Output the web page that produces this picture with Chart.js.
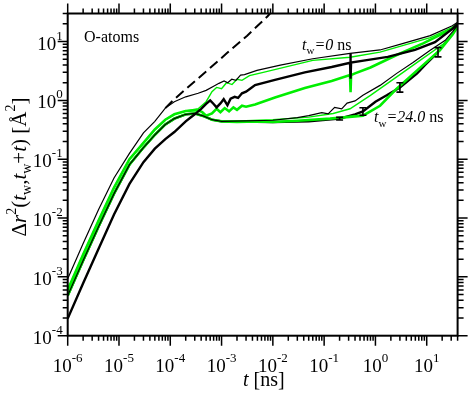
<!DOCTYPE html>
<html><head><meta charset="utf-8">
<script src="https://cdn.jsdelivr.net/npm/chart.js@4.4.0/dist/chart.umd.min.js"></script>
<style>html,body{margin:0;padding:0;background:#fff}canvas{display:block}</style>
</head><body>
<canvas id="c" width="471" height="393"></canvas>
<script>
// ---- axis ticks / labels ----
const xMajorTicks = [1e-6, 1e-5, 1e-4, 1e-3, 1e-2, 1e-1, 1, 10];
const xTickExp = ['-6', '-5', '-4', '-3', '-2', '-1', '0', '1'];
const yMajorTicks = [1e-4, 1e-3, 1e-2, 1e-1, 1, 10];
const yTickExp = ['-4', '-3', '-2', '-1', '0', '1'];

// ---- fit (dashed) ----
const tFit = [8e-5, 1.2e-4, 2e-4, 5e-4, 1.26e-3, 3.16e-3, 7.9e-3, 1e-2];
const msdFit = [0.74, 1.05, 1.55, 3.1, 6.3, 12.6, 27, 34];

// ---- tw = 0 curves ----
const tTopThinBlack = [1e-6, 2e-6, 4e-6, 8e-6, 1.6e-5, 3e-5, 5e-5, 8e-5, 1.2e-4, 2e-4, 3.5e-4, 5e-4, 7e-4, 8.9e-4, 1.12e-3, 1.32e-3, 1.58e-3, 1.9e-3, 2.35e-3, 2.8e-3, 4.9e-3, 1.4e-2, 6e-2, 0.32, 1.23, 3.5, 11.7, 31.6, 40];
const msdTopThinBlack = [9.3e-4, 3.7e-3, 1.4e-2, 4.8e-2, 0.126, 0.28, 0.44, 0.74, 0.95, 1.15, 1.32, 1.48, 1.74, 1.95, 2.14, 2.0, 2.29, 2.19, 2.69, 2.75, 3.24, 3.98, 5.1, 6.3, 7.2, 9.3, 12.6, 18.6, 21.4];

const tShortUp = [1e-6, 2e-6, 4e-6, 8e-6, 1.6e-5, 3e-5, 5e-5, 8e-5, 1.2e-4, 2e-4];
const msdShortUp = [6.0e-4, 2.4e-3, 9.1e-3, 3.3e-2, 0.10, 0.19, 0.32, 0.47, 0.58, 0.66];

const tTopThinGreen = [3.5e-4, 5e-4, 6.5e-4, 8e-4, 1e-3, 1.25e-3, 1.6e-3, 2e-3, 2.5e-3, 3.5e-3, 6.5e-3, 6e-2, 0.32, 1.23, 11.7, 31.6, 40];
const msdTopThinGreen = [0.72, 0.95, 1.41, 1.66, 1.58, 2.0, 1.86, 2.29, 2.19, 2.63, 3.0, 4.8, 5.4, 6.6, 11.7, 17.4, 20.4];

const tThickBlack = [1e-6, 2e-6, 4e-6, 8e-6, 1.6e-5, 3e-5, 5e-5, 8e-5, 1.2e-4, 2e-4, 3e-4, 4e-4, 5e-4, 6e-4, 7e-4, 8e-4, 9.5e-4, 1.1e-3, 1.3e-3, 1.5e-3, 1.8e-3, 2.1e-3, 2.5e-3, 3e-3, 3.6e-3, 4.5e-3, 1.1e-2, 4.2e-2, 0.14, 0.32, 0.325, 0.33, 0.335, 0.63, 1.74, 5.9, 14.5, 32, 40];
const msdThickBlack = [1.95e-4, 7.8e-4, 3.0e-3, 1.15e-2, 3.8e-2, 8.9e-2, 0.151, 0.22, 0.29, 0.44, 0.58, 0.72, 0.87, 1.0, 0.87, 0.76, 0.89, 1.05, 0.83, 1.07, 1.15, 1.10, 1.32, 1.41, 1.58, 1.82, 2.24, 3.0, 3.7, 4.37, 6.3, 2.34, 4.4, 4.8, 5.5, 7.2, 9.8, 16.6, 20];

const tMidGreen = [3.5e-4, 4.2e-4, 5e-4, 6.5e-4, 8e-4, 9.5e-4, 1.15e-3, 1.4e-3, 1.7e-3, 2e-3, 2.5e-3, 3e-3, 4.5e-3, 1.1e-2, 4.2e-2, 0.14, 0.32, 0.325, 0.33, 0.335, 0.4, 0.8, 2.6, 8.5, 32, 40];
const msdMidGreen = [0.68, 0.63, 0.55, 0.60, 0.72, 0.63, 0.74, 0.65, 0.76, 0.69, 0.81, 0.78, 0.85, 1.12, 1.62, 2.14, 2.69, 3.55, 1.38, 2.69, 2.88, 3.63, 5.9, 9.3, 16.6, 19];

// ---- tw = 24 ns curves ----
const tShortLow = [1e-6, 2e-6, 4e-6, 8e-6, 1.6e-5, 3e-5, 5e-5, 8e-5, 1.2e-4, 2e-4, 3e-4, 4.5e-4, 6.5e-4, 1e-3];
const msdShortLow = [4.8e-4, 1.9e-3, 7.2e-3, 2.6e-2, 8.1e-2, 0.158, 0.26, 0.39, 0.49, 0.58, 0.60, 0.54, 0.47, 0.44];

const tLowGreen = [2e-3, 5e-3, 1e-2, 3e-2, 0.13, 0.57, 1.23, 2.6, 6.5, 18, 32, 40];
const msdLowGreen = [0.43, 0.44, 0.43, 0.45, 0.49, 0.55, 0.81, 1.58, 3.24, 7.1, 13.2, 17.8];

const tLowThinGreen = [3e-3, 1e-2, 5e-2, 0.15, 0.32, 0.8, 2.6, 7.4, 21, 32, 40];
const msdLowThinGreen = [0.45, 0.47, 0.52, 0.60, 0.72, 1.22, 2.51, 4.8, 9.1, 13.2, 17.8];

const tLowThinBlack = [3e-3, 1e-2, 3e-2, 5e-2, 9e-2, 0.12, 0.16, 0.22, 0.28, 0.4, 0.57, 1.23, 2.6, 5.4, 11.7, 23, 32, 40];
const msdLowThinBlack = [0.45, 0.46, 0.51, 0.55, 0.62, 0.59, 0.76, 0.72, 0.90, 0.98, 1.22, 1.8, 2.88, 4.4, 7.1, 10.5, 14.8, 19];

const tLowThickBlack = [1e-2, 5e-2, 0.2, 0.4, 0.57, 1.0, 1.66, 3.0, 6.5, 9.3, 16.6];
const msdLowThickBlack = [0.43, 0.44, 0.49, 0.58, 0.65, 0.95, 1.22, 1.66, 2.88, 4.0, 6.6];

// ---- error bars on tw = 24 ns ----
const errT = [0.2, 0.57, 3.0, 16.6];
const errLow = [0.465, 0.56, 1.38, 5.5];
const errHigh = [0.515, 0.75, 2.0, 7.9];

function pts(ts, ys) { return ts.map((t, i) => ({x: t, y: ys[i]})); }

const GREEN = '#00ee00';
const SERIF = '"Liberation Serif", "Times New Roman", serif';

function line(data, color, width, dash) {
  return {data, borderColor: color, borderWidth: width, borderDash: dash || [], pointRadius: 0, fill: false, tension: 0};
}

// dataset index 0 is drawn on top
const datasets = [
  line(pts(tTopThinBlack, msdTopThinBlack), '#000', 1.2),
  line(pts(tShortLow.concat(tLowThinBlack), msdShortLow.concat(msdLowThinBlack)), '#000', 1.2),
  line(pts(tThickBlack, msdThickBlack), '#000', 2.4),
  line(pts(tShortUp.concat(tTopThinGreen), msdShortUp.concat(msdTopThinGreen)), GREEN, 1.4),
  line(pts(tShortLow.concat(tLowThinGreen), msdShortLow.concat(msdLowThinGreen)), GREEN, 1.4),
  line(pts(tShortLow.concat(tLowGreen), msdShortLow.concat(msdLowGreen)), GREEN, 2.6),
  line(pts(tShortUp.concat(tMidGreen), msdShortUp.concat(msdMidGreen)), GREEN, 2.6),
  line(pts(tShortLow.concat(tLowThickBlack), msdShortLow.concat(msdLowThickBlack)), '#000', 2.4),
  line(pts(tFit, msdFit), '#000', 2, [10, 5])
];

function drawRich(ctx, parts, x, y, align) {
  let total = 0;
  parts.forEach(p => { ctx.font = p.f; p.w = ctx.measureText(p.t).width; total += p.w; });
  let cx = align === 'center' ? x - total / 2 : (align === 'right' ? x - total : x);
  parts.forEach(p => { ctx.font = p.f; ctx.fillText(p.t, cx, y + (p.dy || 0)); cx += p.w; });
}
function N(t, s) { return {t, f: s + 'px ' + SERIF}; }
function I(t, s) { return {t, f: 'italic ' + s + 'px ' + SERIF}; }
function SUP(t, s, dy) { return {t, f: s + 'px ' + SERIF, dy: dy}; }

const framePlugin = {
  id: 'frame',
  afterDatasetsDraw(chart) {
    const {ctx, chartArea: a, scales: {x, y}} = chart;
    ctx.save();
    ctx.strokeStyle = '#000';
    ctx.fillStyle = '#000';
    // error bars
    ctx.lineWidth = 1.6;
    errT.forEach((t, i) => {
      const px = x.getPixelForValue(t);
      const y1 = y.getPixelForValue(errLow[i]), y2 = y.getPixelForValue(errHigh[i]);
      ctx.beginPath();
      ctx.moveTo(px, y1); ctx.lineTo(px, y2);
      ctx.moveTo(px - 3.5, y1); ctx.lineTo(px + 3.5, y1);
      ctx.moveTo(px - 3.5, y2); ctx.lineTo(px + 3.5, y2);
      ctx.stroke();
    });
    // frame
    ctx.lineWidth = 2;
    ctx.strokeRect(a.left, a.top, a.right - a.left, a.bottom - a.top);
    // ticks
    ctx.lineWidth = 1.5;
    ctx.beginPath();
    xMajorTicks.forEach(v => {
      for (let m = 1; m <= 9; m++) {
        const val = v * m;
        if (val < x.min * 0.999 || val > x.max * 1.001) continue;
        const px = x.getPixelForValue(val);
        const L = m === 1 ? 10 : 5;
        ctx.moveTo(px, a.bottom); ctx.lineTo(px, a.bottom + L);
        ctx.moveTo(px, a.top); ctx.lineTo(px, a.top - L);
      }
    });
    yMajorTicks.forEach(v => {
      for (let m = 1; m <= 9; m++) {
        const val = v * m;
        if (val < y.min * 0.999 || val > y.max * 1.001) continue;
        const py = y.getPixelForValue(val);
        ctx.moveTo(a.left, py); ctx.lineTo(a.left - (m === 1 ? 10 : 5), py);
        ctx.moveTo(a.right, py); ctx.lineTo(a.right + (m === 1 ? 10 : 6), py);
      }
    });
    ctx.stroke();
    // tick labels
    ctx.textBaseline = 'alphabetic';
    ctx.textAlign = 'left';
    xMajorTicks.forEach((v, i) => {
      const px = x.getPixelForValue(v);
      drawRich(ctx, [N('10', 19), SUP(xTickExp[i], 13, -10)], px, a.bottom + 36, 'center');
    });
    yMajorTicks.forEach((v, i) => {
      const py = y.getPixelForValue(v);
      drawRich(ctx, [N('10', 19), SUP(yTickExp[i], 13, -10)], a.left - 5, py + 8, 'right');
    });
    // axis titles
    drawRich(ctx, [I('t', 20), N(' [ns]', 20)], 243, 386, 'left');
    ctx.save();
    ctx.translate(26, 167);
    ctx.rotate(-Math.PI / 2);
    drawRich(ctx, [N('\u0394', 21), I('r', 21), SUP('2', 14, -10), N('(', 21), I('t', 21), SUP('w', 14, 5), N(',', 21), I('t', 21), SUP('w', 14, 5), N('+', 21), I('t', 21), N(') [', 21), N('\u00C5', 21), SUP('2', 14, -11), N(']', 21)], 0, 0, 'center');
    ctx.restore();
    // annotations
    drawRich(ctx, [N('O-atoms', 16)], 84, 42, 'left');
    drawRich(ctx, [I('t', 16), SUP('w', 11, 4), I('=0', 16), N(' ns', 16)], 302, 50, 'left');
    drawRich(ctx, [I('t', 16), SUP('w', 11, 5), I('=24.0', 16), N(' ns', 16)], 374, 122, 'left');
    ctx.restore();
  }
};

new Chart(document.getElementById('c'), {
  type: 'line',
  data: {datasets},
  options: {
    responsive: false,
    animation: false,
    devicePixelRatio: 1,
    layout: {padding: {left: 67.7, right: 13.4, top: 13.5, bottom: 57.3}},
    plugins: {legend: {display: false}, tooltip: {enabled: false}},
    scales: {
      x: {type: 'logarithmic', min: 1e-6, max: 40, display: false},
      y: {type: 'logarithmic', min: 1e-4, max: 30, display: false}
    },
    elements: {point: {radius: 0}, line: {tension: 0}}
  },
  plugins: [framePlugin]
});
</script>
</body></html>
